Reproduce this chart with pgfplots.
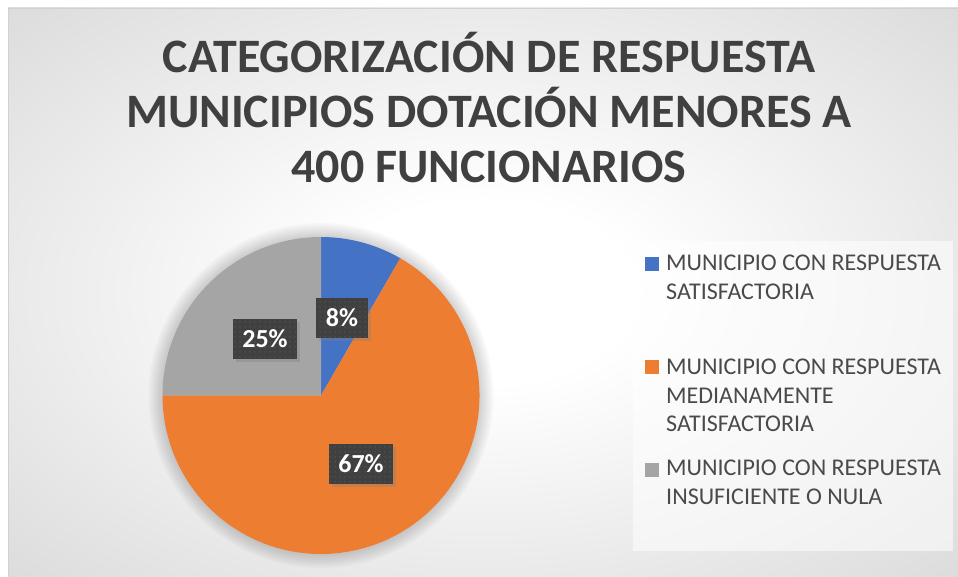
\documentclass[border=0pt]{standalone}
\usepackage{pgfplots}
\pgfplotsset{compat=1.18}
\usepackage{pgfplotstable}
\usepackage{fontspec}
\setmainfont{Carlito}
\usetikzlibrary{patterns.meta,shadows}
\definecolor{cblue}{HTML}{4472C4}
\definecolor{corange}{HTML}{ED7D31}
\definecolor{cgray}{HTML}{A5A5A5}
\definecolor{ctitle}{HTML}{404040}
\definecolor{clegend}{HTML}{4A4A4A}
\definecolor{clabel}{HTML}{404040}
\definecolor{cdot}{HTML}{585858}
\pgfdeclareradialshading{bgshade}{\pgfpoint{0bp}{0bp}}{color(0bp)=(white); color(8bp)=(white); color(50bp)=(black!21); color(72bp)=(black!23)}

\pgfplotstableread{
cat value
Satisfactoria 1
Medianamente 8
Insuficiente 3
}\piedata

\pgfplotstablegetelem{0}{value}\of\piedata \let\va\pgfplotsretval
\pgfplotstablegetelem{1}{value}\of\piedata \let\vb\pgfplotsretval
\pgfplotstablegetelem{2}{value}\of\piedata \let\vc\pgfplotsretval
\pgfmathsetmacro{\tot}{\va+\vb+\vc}
\pgfmathsetmacro{\aA}{90}
\pgfmathsetmacro{\aB}{90-360*\va/\tot}
\pgfmathsetmacro{\aC}{\aB-360*\vb/\tot}
\pgfmathsetmacro{\aD}{\aC-360*\vc/\tot}
\def\cx{321}
\def\cy{181.5}
\def\R{158.5pt}

\tikzset{lbl/.style={fill=clabel, text=white, font=\fontsize{26}{26}\selectfont\bfseries,
  inner xsep=9.5pt, inner ysep=0pt, minimum height=40pt, text height=17pt, text depth=0pt,
  drop shadow={shadow xshift=3pt, shadow yshift=-3pt, opacity=0.35},
  postaction={pattern={Dots[distance=5pt, radius=0.75pt]}, pattern color=cdot}}}

\begin{document}
\begin{tikzpicture}
\begin{axis}[scale only axis, width=958pt, height=577pt,
  xmin=0, xmax=958, ymin=0, ymax=577, hide axis, clip=false]
% page and background
\fill[white] (axis cs:0,0) rectangle (axis cs:958,577);
\shade[shading=bgshade] (axis cs:8,0) rectangle (axis cs:958,569);
\draw[black!18, line width=0.8pt] (axis cs:8,0) -- (axis cs:8,569) -- (axis cs:958,569);
% pie glow
\pgfplotsinvokeforeach{160.5,162.5,164.5,166.5,168.5,170.5,172.5}{
  \fill[black, opacity=0.022] (axis cs:\cx,\cy) circle[radius=#1pt];
}
% pie sectors from data
\fill[cblue] (axis cs:\cx,\cy) -- ++(\aA:\R) arc[start angle=\aA, end angle=\aB, radius=\R] -- cycle;
\fill[corange] (axis cs:\cx,\cy) -- ++(\aB:\R) arc[start angle=\aB, end angle=\aC, radius=\R] -- cycle;
\fill[cgray] (axis cs:\cx,\cy) -- ++(\aC:\R) arc[start angle=\aC, end angle=\aD, radius=\R] -- cycle;
% data labels
\node[lbl] at (axis cs:342,258.5) {8\%};
\node[lbl] at (axis cs:265,238) {25\%};
\node[lbl] at (axis cs:361,112.5) {67\%};
% title
\begin{scope}[every node/.style={anchor=base, text=ctitle, font=\fontsize{48}{55}\selectfont\bfseries, inner sep=0pt}]
\node at (axis cs:489,504) {CATEGORIZACIÓN DE RESPUESTA};
\node at (axis cs:489,449) {MUNICIPIOS DOTACIÓN MENORES A};
\node at (axis cs:489,394) {400 FUNCIONARIOS};
\end{scope}
% legend
\fill[white, opacity=0.55] (axis cs:633,26) rectangle (axis cs:953,336);
\fill[cblue] (axis cs:645,306) rectangle (axis cs:659,320);
\fill[corange] (axis cs:645,203) rectangle (axis cs:659,217);
\fill[cgray] (axis cs:645,100) rectangle (axis cs:659,114);
\begin{scope}[every node/.style={anchor=base west, text=clegend, font=\fontsize{24}{28}\selectfont, inner sep=0pt}]
\node at (axis cs:666,306.3) {MUNICIPIO CON RESPUESTA};
\node at (axis cs:666,277) {SATISFACTORIA};
\node at (axis cs:666,202) {MUNICIPIO CON RESPUESTA};
\node at (axis cs:666,173.5) {MEDIANAMENTE};
\node at (axis cs:666,145) {SATISFACTORIA};
\node at (axis cs:666,101) {MUNICIPIO CON RESPUESTA};
\node at (axis cs:666,72.5) {INSUFICIENTE O NULA};
\end{scope}
\end{axis}
\pgfresetboundingbox
\path[use as bounding box] (0,0) rectangle (958pt,577pt);
\end{tikzpicture}
\end{document}
